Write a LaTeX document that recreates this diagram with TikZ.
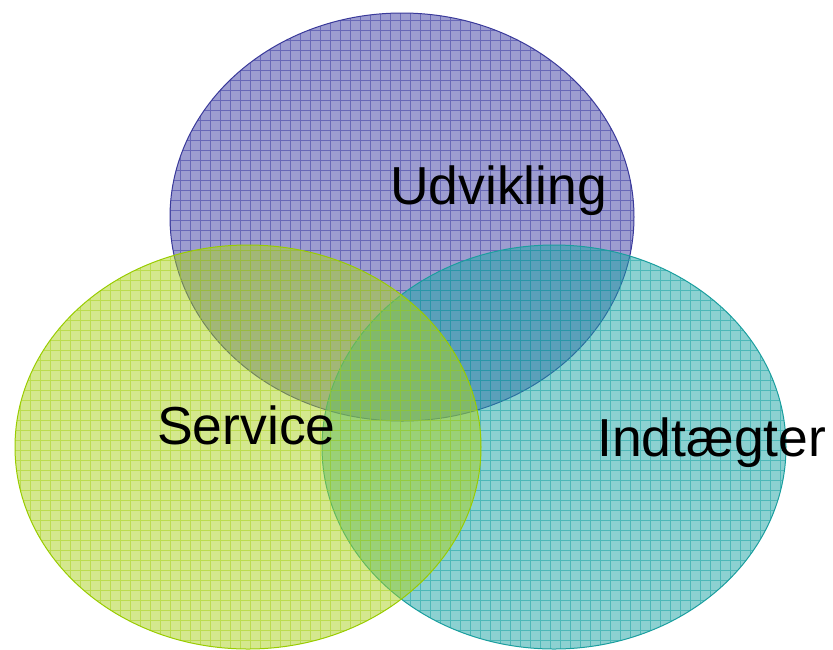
\documentclass[tikz,border=0pt]{standalone}
\usepackage{fontspec}
\setmainfont{Liberation Sans}
\definecolor{purp}{HTML}{3C3CA2}
\definecolor{purpedge}{HTML}{3A3A9A}
\definecolor{tealc}{HTML}{1AA4A4}
\definecolor{tealedge}{HTML}{1A9E9E}
\definecolor{greenc}{HTML}{A9D21E}
\definecolor{greenedge}{HTML}{99CC00}
\tikzset{
  setfill/.style={fill opacity=0.5},
  setgrid/.style={line width=0.9pt, opacity=0.55},
  setedge/.style={line width=1pt},
  setlabel/.style={anchor=base west, inner sep=0pt, font=\fontsize{53.5}{60}\selectfont, text=black}
}
\begin{document}
\begin{tikzpicture}[x=1pt,y=-1pt]
\useasboundingbox (0,0) rectangle (833,649);
% Udvikling (top)
\begin{scope}
  \clip (402,217) ellipse [x radius=232pt, y radius=204pt];
  \fill[purp, setfill] (160,0) rectangle (650,430);
  \draw[purp, setgrid, step=10pt] (160,0) grid (650,430);
\end{scope}
\draw[purpedge, setedge] (402,217) ellipse [x radius=232pt, y radius=204pt];
% Indtaegter (right)
\begin{scope}
  \clip (554,447) ellipse [x radius=232pt, y radius=202pt];
  \fill[tealc, setfill] (310,240) rectangle (800,649);
  \draw[tealc, setgrid, step=10pt] (310,240) grid (800,649);
\end{scope}
\draw[tealedge, setedge] (554,447) ellipse [x radius=232pt, y radius=202pt];
% Service (left)
\begin{scope}
  \clip (248,447) ellipse [x radius=233pt, y radius=202pt];
  \fill[greenc, setfill] (10,240) rectangle (490,649);
  \draw[greenc, setgrid, step=10pt] (10,240) grid (490,649);
\end{scope}
\draw[greenedge, setedge] (248,447) ellipse [x radius=233pt, y radius=202pt];
% labels
\node[setlabel] (udv) at (390,204) {Udvikling};
\node[setlabel] (srv) at (157,444) {Service};
\node[setlabel] (ind) at (597,456) {Indtægter};
\end{tikzpicture}
\end{document}
